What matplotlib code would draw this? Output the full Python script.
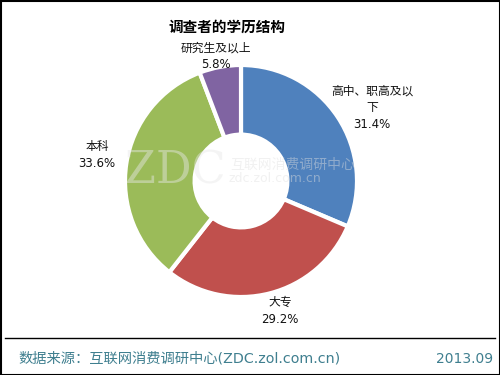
import matplotlib
matplotlib.use('Agg')
import matplotlib.pyplot as plt
from matplotlib.patches import Rectangle

plt.rcParams['font.family'] = ['DejaVu Sans', 'Noto Sans CJK SC']

# 数据
labels = ['高中、职高及以\n下', '大专', '本科', '研究生及以上']
values = [31.4, 29.2, 33.6, 5.8]
colors = ['#4f81bd', '#c0504d', '#9bbb59', '#8064a2']
title = '调查者的学历结构'
source = '数据来源：互联网消费调研中心(ZDC.zol.com.cn)'
date = '2013.09'

W, H = 500, 375
fig = plt.figure(figsize=(5, 3.75), dpi=100)
ax = fig.add_axes([0, 0, 1, 1])

cx, cy, R = 241, H - 181, 116
wedges, _ = ax.pie(values, colors=colors, startangle=90, counterclock=False,
                   center=(cx, cy), radius=R, frame=True,
                   wedgeprops=dict(width=R * 0.6, edgecolor='white', linewidth=3))
ax.set_xlim(0, W)
ax.set_ylim(0, H)
ax.set_aspect('equal')
ax.axis('off')

# 标签 (像素坐标, 从上往下)
pos = [(372, 108), (280, 311), (97, 155), (216, 56)]
for (x, y), lab, v in zip(pos, labels, values):
    ax.text(x, H - y, f'{lab}\n{v}%', ha='center', va='center', fontsize=8.5,
            linespacing=1.35, color='#111111')

# 水印
ax.text(175, H - 171, 'ZDC', family='DejaVu Serif', fontsize=32, color='#e8e8e8',
        alpha=0.45, ha='center', va='center')
ax.text(293, H - 165, '互联网消费调研中心', fontsize=10, color='#e0e0e0',
        alpha=0.45, ha='center', va='center')
ax.text(275, H - 179, 'zdc.zol.com.cn', fontsize=9, color='#e0e0e0',
        alpha=0.45, ha='center', va='center')

ax.text(227, H - 27, title, fontsize=10.5, fontweight='bold', ha='center', va='center',
        family='Noto Sans CJK SC')

# 底部
ax.plot([5, 495], [H - 338, H - 338], color='black', lw=1)
ax.text(18, H - 359, source, fontsize=10.3, color='#3f7f8f', ha='left', va='center')
ax.text(493, H - 359, date, fontsize=10, color='#3f7f8f', ha='right', va='center')

ax.add_patch(Rectangle((0.5, 0.5), W - 1, H - 1, fill=False, edgecolor='black', lw=1.5))

fig.savefig('out.png', dpi=100)
